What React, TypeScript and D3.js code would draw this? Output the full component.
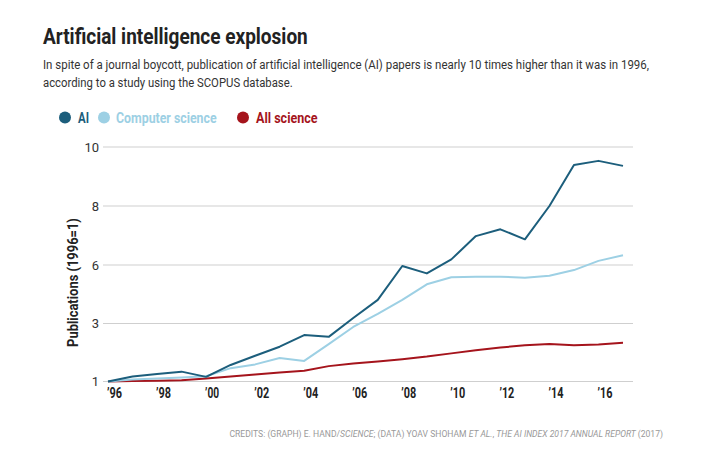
import React, { useLayoutEffect, useRef, useState } from "react";
import * as d3 from "d3";

const years = d3.range(1996, 2018);
const aiValues = [1.0, 1.17, 1.26, 1.34, 1.16, 1.57, 1.89, 2.2, 2.6, 2.54, 3.28, 4.21, 5.95, 5.57, 6.19, 6.98, 7.21, 6.87, 8.0, 9.39, 9.53, 9.36];
const csValues = [1.0, 1.07, 1.1, 1.14, 1.18, 1.46, 1.59, 1.81, 1.71, 2.29, 2.88, 3.49, 4.21, 5.01, 5.37, 5.4, 5.4, 5.35, 5.45, 5.74, 6.14, 6.33];
const allValues = [1.0, 1.02, 1.03, 1.04, 1.1, 1.17, 1.24, 1.31, 1.37, 1.53, 1.62, 1.69, 1.77, 1.86, 1.97, 2.08, 2.17, 2.25, 2.29, 2.25, 2.28, 2.34];
const yTicks = [1, 3, 6, 8, 10];
const xTicks = [1996, 1998, 2000, 2002, 2004, 2006, 2008, 2010, 2012, 2014, 2016];

const seriesNames = ["AI", "Computer science", "All science"];
const colors = ["#1c5e7c", "#9dd0e4", "#a5141c"];

const FONT = "Roboto, 'Noto Sans', sans-serif";

type FitProps = {
  x: number;
  y: number;
  width: number;
  anchor?: "start" | "middle" | "end";
  rotate?: number;
  children: React.ReactNode;
  [k: string]: any;
};

function FitText({ x, y, width, anchor = "start", rotate = 0, children, ...rest }: FitProps) {
  const ref = useRef<SVGTextElement>(null);
  const [s, setS] = useState(1);
  useLayoutEffect(() => {
    if (ref.current) {
      const w = ref.current.getBBox().width;
      if (w > 0) setS(width / w);
    }
  }, [width]);
  return (
    <text
      ref={ref}
      transform={`translate(${x},${y}) rotate(${rotate}) scale(${s},1)`}
      textAnchor={anchor}
      {...rest}
    >
      {children}
    </text>
  );
}

export default function App() {
  const x = d3.scaleLinear().domain([1996, 2017]).range([108, 623]);
  // the reference spaces its 1,3,6,8,10 gridlines evenly
  const y = d3.scaleLinear().domain(yTicks).range([381.5, 323.5, 265, 206, 147]);
  const line = d3
    .line<number>()
    .x((_, i) => x(years[i]))
    .y((d) => y(d));
  const series = [aiValues, csValues, allValues];
  const legendX = [{ c: 65, t: 78, w: 11 }, { c: 104, t: 116, w: 101 }, { c: 243, t: 256, w: 62 }];

  return (
    <svg
      width={705}
      height={474}
      style={{ position: "absolute", left: 0, top: 0, background: "#fff" }}
      fontFamily={FONT}
    >
      <FitText x={43} y={44} width={265} fontSize={22} fontWeight={700} fill="#222">
        Artificial intelligence explosion
      </FitText>
      <FitText x={43} y={69} width={607} fontSize={13.5} fill="#333">
        In spite of a journal boycott, publication of artificial intelligence (AI) papers is nearly 10 times higher than it was in 1996,
      </FitText>
      <FitText x={43} y={87} width={250} fontSize={13.5} fill="#333">
        according to a study using the SCOPUS database.
      </FitText>

      {seriesNames.map((name, i) => (
        <g key={name}>
          <circle cx={legendX[i].c} cy={117.5} r={6} fill={colors[i]} />
          <FitText x={legendX[i].t} y={122.5} width={legendX[i].w} fontSize={14} fontWeight={700} fill={colors[i]}>
            {name}
          </FitText>
        </g>
      ))}

      {yTicks.map((t) => (
        <g key={t}>
          <line x1={103} x2={633} y1={y(t)} y2={y(t)} stroke="#cfcfcf" strokeWidth={1} />
          <text x={99} y={y(t) + 4.5} fontSize={13} fill="#333" textAnchor="end">
            {t}
          </text>
        </g>
      ))}

      {xTicks.map((t) => (
        <FitText key={t} x={x(t) - 1} y={398} width={t === 2000 ? 14 : 15} fontSize={14} fontWeight={700} fill="#222">
          {"\u2019" + String(t).slice(2)}
        </FitText>
      ))}

      <FitText x={78} y={282.5} rotate={-90} width={129} anchor="middle" fontSize={14} fontWeight={700} fill="#222">
        Publications (1996=1)
      </FitText>

      {series
        .map((vals, i) => ({ vals, i }))
        .reverse()
        .map(({ vals, i }) => (
          <path key={i} d={line(vals) || ""} fill="none" stroke={colors[i]} strokeWidth={2} strokeLinejoin="round" />
        ))}

      <FitText x={663} y={437} width={434} anchor="end" fontSize={9.5} fill="#999">
        CREDITS: (GRAPH) E. HAND/<tspan fontStyle="italic">SCIENCE</tspan>; (DATA) YOAV SHOHAM <tspan fontStyle="italic">ET AL.</tspan>,{" "}
        <tspan fontStyle="italic">THE AI INDEX 2017 ANNUAL REPORT</tspan> (2017)
      </FitText>
    </svg>
  );
}
